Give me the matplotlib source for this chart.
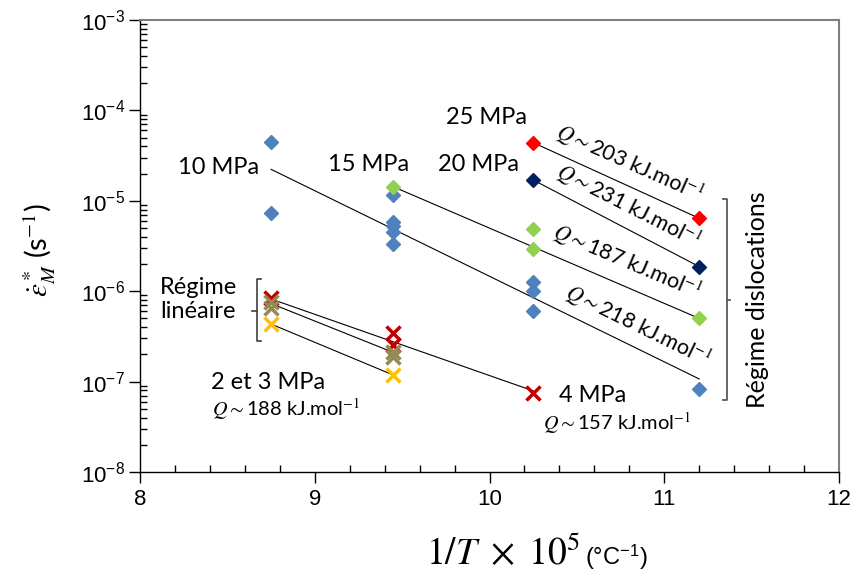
import numpy as np
import matplotlib.pyplot as plt
from matplotlib.ticker import MultipleLocator, LogLocator

plt.rcParams['font.family'] = ['Lato', 'DejaVu Sans']
plt.rcParams['mathtext.fontset'] = 'stix'

# diamonds: creep rate vs 1/T (x1e5)
x_blue = [8.75, 8.75, 9.45, 9.45, 9.45, 9.45, 9.45, 10.25, 10.25, 10.25, 11.2]
y_blue = [4.5e-5, 7.3e-6, 1.16e-5, 5.9e-6, 5.2e-6, 4.55e-6, 3.33e-6, 1.27e-6, 1.01e-6, 6.1e-7, 8.2e-8]
x_green = [9.45, 10.25, 10.25, 11.2]
y_green = [1.43e-5, 4.9e-6, 2.93e-6, 5.0e-7]
x_navy = [10.25, 11.2]
y_navy = [1.70e-5, 1.87e-6]
x_red = [10.25, 11.2]
y_red = [4.4e-5, 6.4e-6]

# crosses (low stress)
x_redx = [8.75, 9.45, 9.45, 10.25]
y_redx = [8.5e-7, 3.42e-7, 2.54e-7, 7.4e-8]
x_olive = [8.75, 8.75, 9.45, 9.45]
y_olive = [7.5e-7, 6.5e-7, 2.14e-7, 1.86e-7]
x_orange = [8.75, 9.45]
y_orange = [4.33e-7, 1.18e-7]

# fitted Arrhenius lines
fits = {
    '25': ([10.25, 11.2], [4.4e-5, 6.4e-6]),
    '20': ([10.25, 11.2], [1.70e-5, 1.87e-6]),
    '15': ([9.45, 11.2], [1.43e-5, 5.0e-7]),
    '10': ([8.75, 11.2], [2.23e-5, 1.07e-7]),
    '4': ([8.75, 10.25], [8.2e-7, 7.9e-8]),
    '3': ([8.75, 9.45], [7.3e-7, 2.1e-7]),
    '2': ([8.75, 9.45], [4.33e-7, 1.18e-7]),
}

fig = plt.figure(figsize=(8.54, 5.71), dpi=100)
ax = fig.add_axes([140/854, 1-472/571, 699/854, 452/571])

for k, (fx, fy) in fits.items():
    ax.plot(fx, fy, color='black', lw=0.8, zorder=2)

ax.plot(x_blue, y_blue, 'D', color='#4F81BD', ms=7, zorder=3)
ax.plot(x_green, y_green, 'D', color='#92D050', ms=7, zorder=3)
ax.plot(x_navy, y_navy, 'D', color='#002060', ms=7, zorder=3)
ax.plot(x_red, y_red, 'D', color='#FF0000', ms=7, zorder=3)
ax.plot(x_redx, y_redx, 'x', color='#C00000', ms=10, mew=2.5, zorder=3)
ax.plot(x_olive, y_olive, 'x', color='#948A54', ms=10, mew=2.5, zorder=3)
ax.plot(x_orange, y_orange, 'x', color='#FFC000', ms=10, mew=2.5, zorder=3)

ax.set_yscale('log')
ax.set_xlim(8, 12)
ax.set_ylim(1e-8, 1e-3)
ax.xaxis.set_major_locator(MultipleLocator(1))
ax.xaxis.set_minor_locator(MultipleLocator(0.2))
ax.yaxis.set_minor_locator(LogLocator(base=10, subs=np.arange(2, 10)))

for s in ['top', 'right']:
    ax.spines[s].set_color('#7f7f7f')
    ax.spines[s].set_linewidth(1.5)
for s in ['left', 'bottom']:
    ax.spines[s].set_color('black')
    ax.spines[s].set_linewidth(1.0)

ax.tick_params(which='major', direction='out', length=8, width=1, labelsize=16)
ax.tick_params(axis='x', which='major', pad=4)
ax.tick_params(axis='y', which='major', pad=3)
ax.tick_params(which='minor', direction='in', length=5, width=1)
ax.tick_params(top=False, right=False, which='both')
for lab in ax.get_xticklabels() + ax.get_yticklabels():
    lab.set_family('Liberation Sans')

# annotations
fs = 17
ax.text(8.449, 2.31e-5, '10 MPa', fontsize=fs, ha='center', va='center')
ax.text(9.308, 2.49e-5, '15 MPa', fontsize=fs, ha='center', va='center')
ax.text(9.984, 8.3e-5, '25 MPa', fontsize=fs, ha='center', va='center')
ax.text(9.937, 2.55e-5, '20 MPa', fontsize=fs, ha='center', va='center')
ax.text(8.332, 8.09e-7, 'Régime\nlinéaire', fontsize=fs, ha='center', va='center', linespacing=1.2)
ax.text(8.735, 9.66e-8, '2 et 3 MPa', fontsize=fs, ha='center', va='center')
ax.text(8.835, 4.98e-8, r'$Q\sim$188 kJ.mol$^{-1}$', fontsize=14.5, ha='center', va='center')
ax.text(10.592, 6.93e-8, '4 MPa', fontsize=fs, ha='center', va='center')
ax.text(10.73, 3.48e-8, r'$Q\sim$157 kJ.mol$^{-1}$', fontsize=14.5, ha='center', va='center')

rot_labels = [
    (10.804, 2.62e-5, '203', -24),
    (10.793, 8.75e-6, '231', -27),
    (10.787, 2.10e-6, '187', -23),
    (10.85, 4.12e-7, '218', -26),
]
for rx, ry, q, ang in rot_labels:
    ax.text(rx, ry, r'$Q\sim$' + q + r' kJ.mol$^{-1}$', fontsize=15.5, rotation=ang,
            rotation_mode='anchor', ha='center', va='center')

ax.text(11.535, 8.0e-7, 'Régime dislocations', fontsize=18, rotation=90, ha='center', va='center')

# brackets
bx = 11.359
ax.plot([bx - 0.025, bx, bx, bx - 0.025], [1.05e-5, 1.05e-5, 6.25e-8, 6.25e-8], color='#595959', lw=1.3)
ax.plot([bx, bx + 0.02], [8.0e-7, 8.0e-7], color='#595959', lw=1.3)
lx = 8.67
ax.plot([lx + 0.025, lx, lx, lx + 0.025], [1.36e-6, 1.36e-6, 2.81e-7, 2.81e-7], color='#404040', lw=1.2)
ax.plot([lx, lx - 0.03], [6.04e-7, 6.04e-7], color='#404040', lw=1.2)

# axis labels
fig.text(581/854, 1-565/571, r'$1/T \ \times \ 10^5$', fontsize=27, ha='right', va='baseline')
fig.text(585/854, 1-565/571, r'(°C$^{\mathdefault{-1}}$)', fontsize=17, ha='left', va='baseline',
         family='Liberation Sans')
fig.text(40/854, 1-250/571, r'$\dot{\varepsilon}^*_M$ (s$^{-1}$)', fontsize=21, rotation=90,
         ha='center', va='center')

plt.savefig('out.png', dpi=100)
